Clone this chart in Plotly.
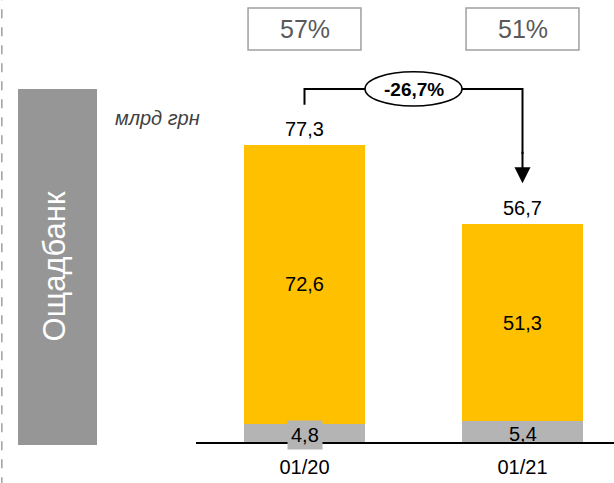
import plotly.graph_objects as go

categories = ["01/20", "01/21"]
base_vals = [4.8, 5.4]
main_vals = [72.6, 51.3]
totals = [77.3, 56.7]
share_labels = ["57%", "51%"]
change_label = "-26,7%"
unit_label = "млрд грн"
bank_label = "Ощадбанк"

YELLOW = "#FFC000"
GREY = "#B4B4B4"
FONT = "Liberation Sans, Arial, sans-serif"
base_label_bg = [GREY, "rgba(0,0,0,0)"]

def fmt(v):
    return f"{v:.1f}".replace(".", ",")

xi = list(range(len(categories)))

fig = go.Figure()
fig.add_trace(go.Bar(x=xi, y=base_vals, marker=dict(color=GREY, line=dict(width=0)),
                     width=0.555, hoverinfo="skip"))
fig.add_trace(go.Bar(x=xi, y=main_vals, marker=dict(color=YELLOW, line=dict(width=0)),
                     width=0.555, text=[fmt(v) for v in main_vals], textposition="inside",
                     insidetextanchor="middle", textfont=dict(size=20, color="black", family=FONT),
                     hoverinfo="skip"))

ann = []
# totals
for i, t in enumerate(totals):
    ann.append(dict(x=i, y=t, text=fmt(t), showarrow=False, yanchor="bottom", yshift=3,
                    font=dict(size=20, color="black", family=FONT)))
# base labels
for i, b in enumerate(base_vals):
    ann.append(dict(x=i, y=b / 2, text=fmt(b), showarrow=False, yshift=-2,
                    bgcolor=base_label_bg[i], borderpad=3,
                    font=dict(size=20, color="black", family=FONT)))
# share boxes
shapes = []
for i, s in enumerate(share_labels):
    shapes.append(dict(type="rect", xref="x", yref="y", x0=i - 0.259, x1=i + 0.259,
                       y0=102.1, y1=113.0, line=dict(color="#A0A0A0", width=1.5),
                       fillcolor="white"))
    ann.append(dict(x=i, y=107.55, text=s, showarrow=False,
                    font=dict(size=25, color="#595959", family=FONT)))

# change arrow
y_top = 91.9
shapes.append(dict(type="path", xref="x", yref="y",
                   path=f"M 0 87.8 L 0 {y_top} L 1 {y_top} L 1 75",
                   line=dict(color="black", width=2)))
ann.append(dict(x=1, y=67.4, ax=1, ay=76, axref="x", ayref="y", xref="x", yref="y",
                showarrow=True, arrowhead=2, arrowsize=1.6, arrowwidth=2, arrowcolor="black",
                text=""))
shapes.append(dict(type="circle", xref="x", yref="y", x0=0.2775, x1=0.7225, y0=87.5, y1=96.4,
                   line=dict(color="black", width=1.5), fillcolor="white"))
ann.append(dict(x=0.5, y=91.9, text=f"<b>{change_label}</b>", showarrow=False,
                font=dict(size=19, color="black", family=FONT)))

# left decorations
shapes.append(dict(type="rect", xref="paper", yref="paper", x0=-0.4258, x1=-0.2368,
                   y0=-0.0068, y1=0.7986, line=dict(width=0), fillcolor="#969696"))
shapes.append(dict(type="line", xref="paper", yref="paper", x0=-0.4645, x1=-0.4645,
                   y0=-0.1, y1=1.0, line=dict(color="#A0A0A0", width=1.5, dash="dash")))
ann.append(dict(xref="paper", yref="paper", x=-0.3385, y=0.396, text=bank_label, textangle=-90,
                xanchor="center", yanchor="middle", showarrow=False,
                font=dict(size=31, color="white", family=FONT)))
ann.append(dict(xref="paper", yref="paper", x=-0.093, y=0.733, text=f"<i>{unit_label}</i>",
                xanchor="center", yanchor="middle", showarrow=False,
                font=dict(size=20, color="#404040", family=FONT)))

fig.update_layout(
    width=614, height=483, barmode="stack", showlegend=False,
    margin=dict(l=196, r=0, t=0, b=41),
    plot_bgcolor="white", paper_bgcolor="white",
    annotations=ann, shapes=shapes,
    xaxis=dict(range=[-0.4977, 1.4197], tickvals=xi, ticktext=categories,
               showline=True, linecolor="black", linewidth=2, showgrid=False, zeroline=False,
               ticks="outside", ticklen=6, tickcolor="white",
               tickfont=dict(size=20, color="black", family=FONT)),
    yaxis=dict(range=[0, 442 / 3.84], visible=False, showgrid=False, zeroline=False),
)

fig.write_html("out.html", config={"displayModeBar": False},
               post_script="document.body.style.margin='0';")
